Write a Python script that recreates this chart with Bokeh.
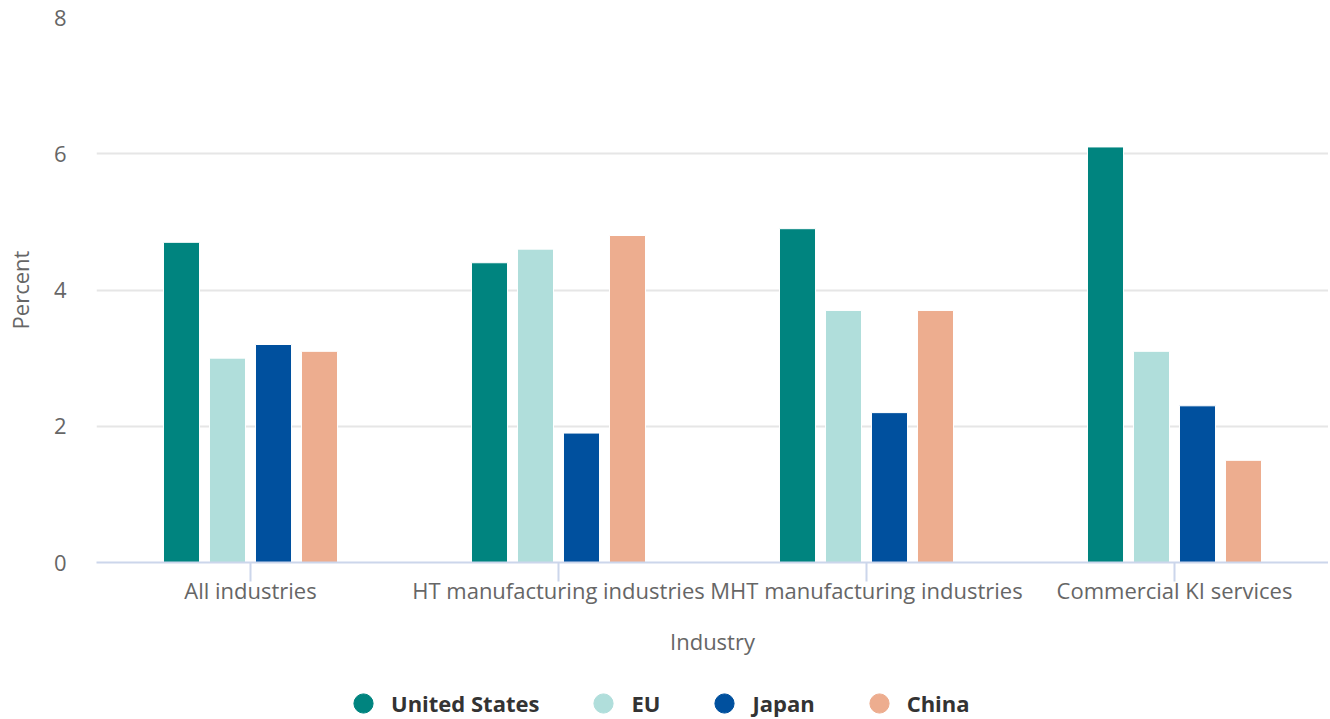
from bokeh.plotting import figure
from bokeh.layouts import column
from bokeh.models import ColumnDataSource, FactorRange, Range1d, FixedTicker, Legend, LegendItem
from bokeh.transform import dodge
from bokeh.embed import file_html
from bokeh.resources import INLINE

categories = ["All industries", "HT manufacturing industries",
              "MHT manufacturing industries", "Commercial KI services"]
series_names = ["United States", "EU", "Japan", "China"]
united_states = [4.7, 4.4, 4.9, 6.1]
eu = [3.0, 4.6, 3.7, 3.1]
japan = [3.2, 1.9, 2.2, 2.3]
china = [3.1, 4.8, 3.7, 1.5]
y_ticks = [0, 2, 4, 6, 8]

colors = ["#00847F", "#B0DEDB", "#00509E", "#EDAD8F"]
offsets = [-0.224, -0.0747, 0.0747, 0.224]
FONT = "Open Sans"

src = ColumnDataSource(dict(cat=categories, us=united_states, eu=eu, jp=japan, cn=china))

p = figure(x_range=FactorRange(factors=categories, range_padding=0),
           y_range=Range1d(0, 8),
           width=1328, height=664, output_backend="svg", toolbar_location=None,
           min_border_left=96, min_border_right=0, min_border_top=17, min_border_bottom=102)
p.outline_line_color = None

cols = ["us", "eu", "jp", "cn"]
for c, col, off in zip(cols, colors, offsets):
    p.vbar(x=dodge("cat", off, range=p.x_range), top=c, width=0.117, source=src,
           fill_color=col, line_color="white", line_width=1)

# y axis
p.yaxis.ticker = FixedTicker(ticks=y_ticks)
p.yaxis.axis_line_color = None
p.yaxis.major_tick_line_color = None
p.yaxis.minor_tick_line_color = None
p.yaxis.major_tick_out = 0
p.yaxis.major_label_standoff = 30
p.yaxis.major_label_text_font = FONT
p.yaxis.major_label_text_font_size = "22px"
p.yaxis.major_label_text_color = "#666666"
p.yaxis.axis_label = "Percent"
p.yaxis.axis_label_text_font = FONT
p.yaxis.axis_label_text_font_size = "22px"
p.yaxis.axis_label_text_font_style = "normal"
p.yaxis.axis_label_text_color = "#666666"
p.yaxis.axis_label_standoff = 16

# x axis
p.xaxis.axis_line_color = "#CCD6EB"
p.xaxis.axis_line_width = 2
p.xaxis.major_tick_line_color = "#CCD6EB"
p.xaxis.major_tick_line_width = 2
p.xaxis.major_tick_out = 19
p.xaxis.major_tick_in = 0
p.xaxis.major_label_standoff = -7
p.xaxis.major_label_text_font = FONT
p.xaxis.major_label_text_font_size = "22px"
p.xaxis.major_label_text_color = "#666666"
p.xaxis.axis_label = "Industry"
p.xaxis.axis_label_text_font = FONT
p.xaxis.axis_label_text_font_size = "22px"
p.xaxis.axis_label_text_font_style = "normal"
p.xaxis.axis_label_text_color = "#666666"
p.xaxis.axis_label_standoff = 18

p.xgrid.grid_line_color = None
p.ygrid.grid_line_color = "#E6E6E6"
p.ygrid.grid_line_width = 2

# legend figure (frame aligned with main plot frame by the column layout)
lf = figure(width=1328, height=55, x_range=Range1d(0, 1), y_range=Range1d(0, 1),
            output_backend="svg", toolbar_location=None,
            x_axis_location=None, y_axis_location=None,
            min_border_left=96, min_border_right=0, min_border_top=0, min_border_bottom=0)
lf.outline_line_color = None
lf.xgrid.visible = False
lf.ygrid.visible = False

items = []
for name, col in zip(series_names, colors):
    # legend proxy placed outside the visible range
    r = lf.scatter(x=[-5], y=[-5], marker="circle", size=19, fill_color=col, line_color=col)
    items.append(LegendItem(label=name, renderers=[r]))

legend = Legend(items=items, orientation="horizontal", location=(243, -8),
                glyph_width=48, glyph_height=48, label_standoff=4, spacing=40,
                padding=0, margin=0, border_line_alpha=0, background_fill_alpha=0,
                label_text_font=FONT, label_text_font_size="22px",
                label_text_font_style="bold", label_text_color="#333333")
lf.add_layout(legend, "center")

layout = column(p, lf, spacing=0)
open("out.html", "w").write(file_html(layout, INLINE))
